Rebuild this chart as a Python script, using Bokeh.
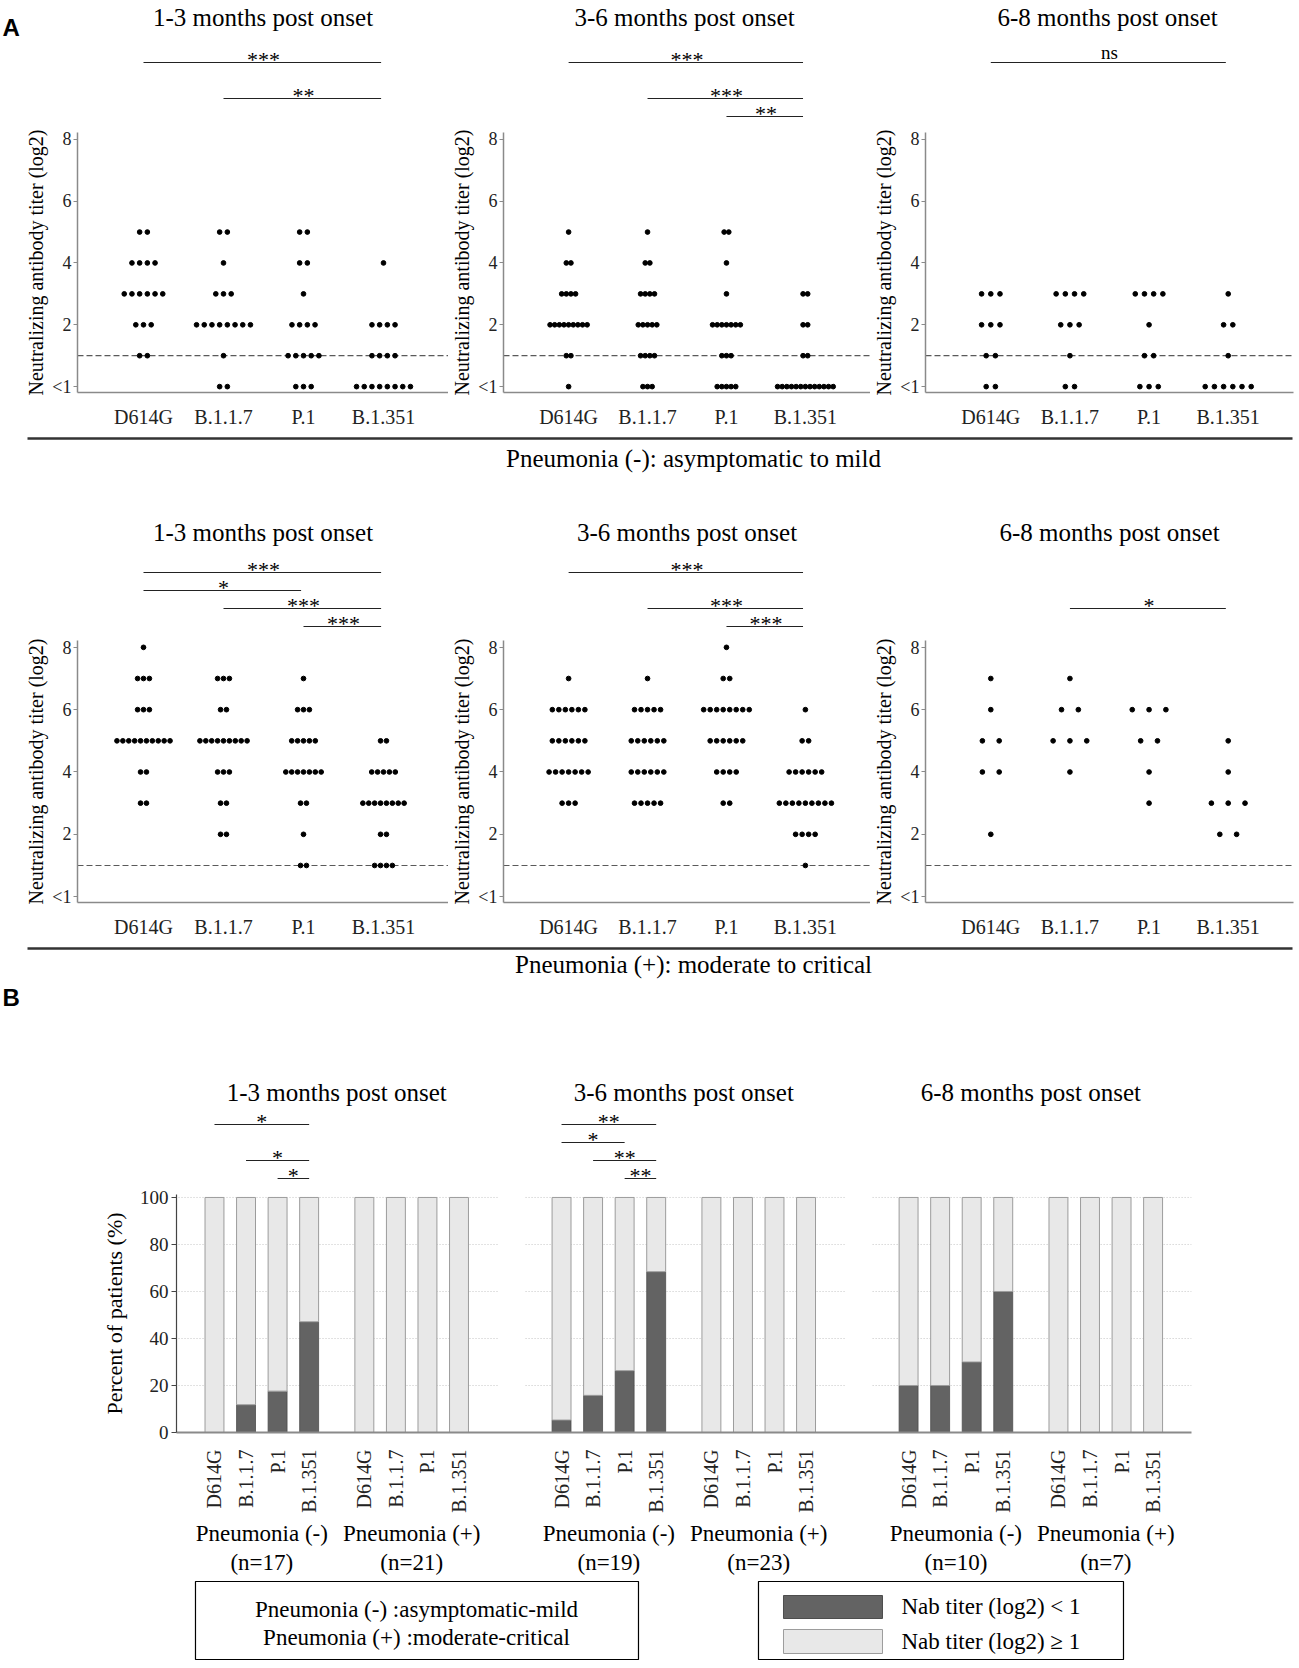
import math
from bokeh.plotting import figure
from bokeh.layouts import column, row
from bokeh.models import Range1d, FixedTicker, Span
from bokeh.embed import file_html
from bokeh.resources import INLINE
from bokeh.core.properties import value

SERIF = "Liberation Serif"
SANS = "Liberation Sans"

# ---------------------------------------------------------------- data
variants = ["D614G", "B.1.1.7", "P.1", "B.1.351"]
periods = ["1-3 months post onset", "3-6 months post onset", "6-8 months post onset"]
titer_ticks = [0, 2, 4, 6, 8]
titer_tick_labels = ["<1", "2", "4", "6", "8"]
cutoff = 1

# Panel A: neutralizing antibody titer (log2) per patient, 0 = "<1"
# Pneumonia (-): asymptomatic to mild
neg_1_3 = {
    "D614G":   [5, 5, 4, 4, 4, 4, 3, 3, 3, 3, 3, 3, 2, 2, 2, 1, 1],
    "B.1.1.7": [5, 5, 4, 3, 3, 3, 2, 2, 2, 2, 2, 2, 2, 2, 1, 0, 0],
    "P.1":     [5, 5, 4, 4, 3, 2, 2, 2, 2, 1, 1, 1, 1, 1, 0, 0, 0],
    "B.1.351": [4, 2, 2, 2, 2, 1, 1, 1, 1, 0, 0, 0, 0, 0, 0, 0, 0],
}
neg_3_6 = {
    "D614G":   [5, 4, 4, 3, 3, 3, 3, 2, 2, 2, 2, 2, 2, 2, 2, 2, 1, 1, 0],
    "B.1.1.7": [5, 4, 4, 3, 3, 3, 3, 2, 2, 2, 2, 2, 1, 1, 1, 1, 0, 0, 0],
    "P.1":     [5, 5, 4, 3, 2, 2, 2, 2, 2, 2, 2, 1, 1, 1, 0, 0, 0, 0, 0],
    "B.1.351": [3, 3, 2, 2, 1, 1, 0, 0, 0, 0, 0, 0, 0, 0, 0, 0, 0, 0, 0],
}
neg_6_8 = {
    "D614G":   [3, 3, 3, 2, 2, 2, 1, 1, 0, 0],
    "B.1.1.7": [3, 3, 3, 3, 2, 2, 2, 1, 0, 0],
    "P.1":     [3, 3, 3, 3, 2, 1, 1, 0, 0, 0],
    "B.1.351": [3, 2, 2, 1, 0, 0, 0, 0, 0, 0],
}
# Pneumonia (+): moderate to critical
pos_1_3 = {
    "D614G":   [8, 7, 7, 7, 6, 6, 6, 5, 5, 5, 5, 5, 5, 5, 5, 5, 5, 4, 4, 3, 3],
    "B.1.1.7": [7, 7, 7, 6, 6, 5, 5, 5, 5, 5, 5, 5, 5, 5, 4, 4, 4, 3, 3, 2, 2],
    "P.1":     [7, 6, 6, 6, 5, 5, 5, 5, 5, 4, 4, 4, 4, 4, 4, 4, 3, 3, 2, 1, 1],
    "B.1.351": [5, 5, 4, 4, 4, 4, 4, 3, 3, 3, 3, 3, 3, 3, 3, 2, 2, 1, 1, 1, 1],
}
pos_3_6 = {
    "D614G":   [7, 6, 6, 6, 6, 6, 6, 5, 5, 5, 5, 5, 5, 4, 4, 4, 4, 4, 4, 4, 3, 3, 3],
    "B.1.1.7": [7, 6, 6, 6, 6, 6, 5, 5, 5, 5, 5, 5, 4, 4, 4, 4, 4, 4, 3, 3, 3, 3, 3],
    "P.1":     [8, 7, 7, 6, 6, 6, 6, 6, 6, 6, 6, 5, 5, 5, 5, 5, 5, 4, 4, 4, 4, 3, 3],
    "B.1.351": [6, 5, 5, 4, 4, 4, 4, 4, 4, 3, 3, 3, 3, 3, 3, 3, 3, 3, 2, 2, 2, 2, 1],
}
pos_6_8 = {
    "D614G":   [7, 6, 5, 5, 4, 4, 2],
    "B.1.1.7": [7, 6, 6, 5, 5, 5, 4],
    "P.1":     [6, 6, 6, 5, 5, 4, 3],
    "B.1.351": [5, 4, 3, 3, 3, 2, 2],
}

# significance brackets: (from variant, to variant, label, stacking level)
sig_neg_1_3 = [(0, 3, "***", 0), (1, 3, "**", 2)]
sig_neg_3_6 = [(0, 3, "***", 0), (1, 3, "***", 2), (2, 3, "**", 3)]
sig_neg_6_8 = [(0, 3, "ns", 0)]
sig_pos_1_3 = [(0, 3, "***", 0), (0, 2, "*", 1), (1, 3, "***", 2), (2, 3, "***", 3)]
sig_pos_3_6 = [(0, 3, "***", 0), (1, 3, "***", 2), (2, 3, "***", 3)]
sig_pos_6_8 = [(1, 3, "*", 2)]

# Panel B: percent of patients with Nab titer (log2) < 1
groups = ["Pneumonia (-)", "Pneumonia (+)"]
group_n = [17, 21, 19, 23, 10, 7]
pct_below_neg_1_3 = [0.0, 11.8, 17.6, 47.1]
pct_below_pos_1_3 = [0.0, 0.0, 0.0, 0.0]
pct_below_neg_3_6 = [5.3, 15.8, 26.3, 68.4]
pct_below_pos_3_6 = [0.0, 0.0, 0.0, 0.0]
pct_below_neg_6_8 = [20.0, 20.0, 30.0, 60.0]
pct_below_pos_6_8 = [0.0, 0.0, 0.0, 0.0]
sig_b_1_3 = [(0, 3, "*", 0), (1, 3, "*", 2), (2, 3, "*", 3)]
sig_b_3_6 = [(0, 3, "**", 0), (0, 2, "*", 1), (1, 3, "**", 2), (2, 3, "**", 3)]
sig_b_6_8 = []

# ---------------------------------------------------------------- helpers
W = 1299
AXIS_GRAY = "#8a8a8a"
TITLE_PX = 25
STAR_PX = 22


def txt(p, x, y, s, size, align="center", baseline="middle", font=SERIF,
        style="normal", color="black", angle=0.0, y_offset=0):
    p.text(x=[x], y=[y], text=[s], text_font=value(font), text_font_size=f"{size}px",
           text_align=align, text_baseline=baseline, text_font_style=style,
           text_color=color, angle=angle, y_offset=y_offset)


def band(width, height, x_range=None, left=0, right=0):
    """Figure without axes whose y coordinate is pixels from its top edge."""
    p = figure(width=width, height=height,
               x_range=x_range if x_range is not None else Range1d(0, width),
               y_range=Range1d(height, 0),
               x_axis_location=None, y_axis_location=None,
               min_border_left=left, min_border_right=right, min_border_top=0, min_border_bottom=0,
               output_backend="svg", toolbar_location=None)
    p.grid.visible = False
    p.outline_line_color = None
    return p


def star_text(p, x, y, lab, size, star_off=-3):
    if lab == "ns":
        txt(p, x, y, lab, size - 3, y_offset=-10)
    else:
        txt(p, x, y, lab, size, y_offset=star_off)


def brackets(p, sigs, y_first, shift=0.0, x_end=0.0, star_off=-3):
    for i, j, lab, lvl in sigs:
        y = y_first + lvl * 18
        p.segment(x0=[shift + i], y0=[y], x1=[shift + j + x_end], y1=[y],
                  line_color="#222222", line_width=1.2)
        star_text(p, shift + (i + j) / 2, y, lab, STAR_PX, star_off)


FRAMES = [(448, 77, 371), (422, 50, 372), (429, 51, 372)]  # fig width, left border, frame width
PX_PER_CAT = 80.0


def dot_panel(data, spacing_px, sigs, fr, sig_h, sig_first, pan_h, top_border, y_lo, y_hi,
              title=None, title_y=None):
    width, left, frame_w = fr
    right = width - left - frame_w
    xr = Range1d(0.175, 0.175 + frame_w / PX_PER_CAT)

    # significance brackets (and title) above the panel, same x scale
    s = band(width, sig_h, x_range=xr, left=left, right=right)
    brackets(s, sigs, sig_first, shift=1.0, x_end=-0.03)
    if title:
        txt(s, 0.175 + frame_w / PX_PER_CAT / 2, title_y, title, TITLE_PX)

    p = figure(width=width, height=pan_h, x_range=xr, y_range=Range1d(y_lo, y_hi),
               min_border_left=left, min_border_right=right,
               min_border_top=top_border, min_border_bottom=32,
               output_backend="svg", toolbar_location=None)
    p.xgrid.visible = False
    p.ygrid.visible = False
    p.outline_line_color = None

    p.add_layout(Span(location=cutoff, dimension="width", line_color="#5a5a5a",
                      line_dash="6 3", line_width=1.2, level="underlay"))

    xs, ys = [], []
    for ci, v in enumerate(variants):
        vals = data[v]
        for level in sorted(set(vals)):
            k = vals.count(level)
            for i in range(k):
                xs.append(ci + 1 + (i - (k - 1) / 2) * spacing_px / PX_PER_CAT)
                ys.append(level)
    p.scatter(xs, ys, size=4.7, fill_color="black", line_color="black")

    yax = p.yaxis[0]
    yax.ticker = FixedTicker(ticks=titer_ticks)
    yax.major_label_overrides = {t: l for t, l in zip(titer_ticks, titer_tick_labels)}
    yax.axis_label = "Neutralizing antibody titer (log2)"
    yax.axis_label_text_font = SERIF
    yax.axis_label_text_font_size = "20px"
    yax.axis_label_text_font_style = "normal"
    yax.axis_label_text_color = "black"
    yax.axis_label_standoff = 2
    yax.major_label_text_font = SERIF
    yax.major_label_text_font_size = "18px"
    yax.major_label_text_color = "#222222"
    yax.major_label_standoff = 2
    yax.axis_line_color = AXIS_GRAY
    yax.axis_line_width = 1.5
    yax.major_tick_line_color = AXIS_GRAY
    yax.major_tick_out = 4
    yax.major_tick_in = 0
    yax.minor_tick_line_color = None

    xax = p.xaxis[0]
    xax.ticker = FixedTicker(ticks=[1, 2, 3, 4])
    xax.major_label_overrides = {i + 1: v for i, v in enumerate(variants)}
    xax.major_label_text_font = SERIF
    xax.major_label_text_font_size = "20px"
    xax.major_label_text_color = "#222222"
    xax.major_label_standoff = 7
    xax.axis_line_color = AXIS_GRAY
    xax.axis_line_width = 1.5
    xax.major_tick_line_color = None
    xax.minor_tick_line_color = None
    return column(s, p)


# ---------------------------------------------------------------- Panel A
centers = []
off = 0
for width, left, frame_w in FRAMES:
    centers.append(off + left + frame_w / 2)
    off += width

top = band(W, 40)
txt(top, 2, 27, "A", 24, align="left", font=SANS, style="bold")
for cx, t in zip(centers, periods):
    txt(top, cx, 17, t, TITLE_PX)

neg_data = [neg_1_3, neg_3_6, neg_6_8]
neg_sigs = [sig_neg_1_3, sig_neg_3_6, sig_neg_6_8]
neg_spacing = [7.7, 4.7, 9.3]
row1 = [dot_panel(d, s, g, fr, 86, 22, 304, 6, -0.19, 8.22)
        for d, s, g, fr in zip(neg_data, neg_spacing, neg_sigs, FRAMES)]

sep1 = band(W, 50)
sep1.segment(x0=[27], y0=[8], x1=[1292], y1=[8], line_color="#333333", line_width=2.5)
txt(sep1, 693, 28, "Pneumonia (-): asymptomatic to mild", TITLE_PX)

pos_data = [pos_1_3, pos_3_6, pos_6_8]
pos_sigs = [sig_pos_1_3, sig_pos_3_6, sig_pos_6_8]
pos_spacing = [5.9, 6.6, 17.0]
row2 = [dot_panel(d, s, g, fr, 157, 92, 303, 3, -0.188, 8.22, title=t, title_y=52)
        for d, s, g, fr, t in zip(pos_data, pos_spacing, pos_sigs, FRAMES, periods)]

sep2 = band(W, 70)
sep2.segment(x0=[27], y0=[8], x1=[1292], y1=[8], line_color="#333333", line_width=2.5)
txt(sep2, 693, 24, "Pneumonia (+): moderate to critical", TITLE_PX)
txt(sep2, 2, 57, "B", 24, align="left", font=SANS, style="bold")

# ---------------------------------------------------------------- Panel B
block_start = [0.0, 11.0, 22.0]
group_shift = [0.0, 4.75]
pct_blocks = [(pct_below_neg_1_3, pct_below_pos_1_3),
              (pct_below_neg_3_6, pct_below_pos_3_6),
              (pct_below_neg_6_8, pct_below_pos_6_8)]
sig_blocks = [sig_b_1_3, sig_b_3_6, sig_b_6_8]

bx, below, names = [], [], []
for b, pair in zip(block_start, pct_blocks):
    for g, vals in zip(group_shift, pair):
        for k, v in enumerate(vals):
            bx.append(b + g + k)
            below.append(v)
            names.append(variants[k])

B_LEFT, B_RIGHT = 176, 108
x_rng = Range1d(-1.204, 30.967)

# titles and brackets above the bar chart
pbt = band(W, 178, x_range=x_rng, left=B_LEFT, right=B_RIGHT)
for b, t, sigs in zip(block_start, periods, sig_blocks):
    txt(pbt, b + 3.875, 82, t, TITLE_PX)
    brackets(pbt, sigs, 114, shift=b, star_off=-3)

pb = figure(width=W, height=327, x_range=x_rng, y_range=Range1d(0, 101.26),
            min_border_left=B_LEFT, min_border_right=B_RIGHT, min_border_top=6, min_border_bottom=79,
            output_backend="svg", toolbar_location=None)
pb.xgrid.visible = False
pb.ygrid.visible = False
pb.outline_line_color = None

grid_levels = [20, 40, 60, 80, 100]
for b in block_start:
    pb.segment(x0=[b - 1.14] * len(grid_levels), y0=grid_levels,
               x1=[b + 8.97] * len(grid_levels), y1=grid_levels,
               line_color="#c4c4c4", line_dash="1 2", line_width=1)

r_dark = pb.vbar(x=bx, width=0.6, bottom=0, top=below, fill_color="#636363", line_color="#4d4d4d", line_width=0.8)
r_light = pb.vbar(x=bx, width=0.6, bottom=below, top=[100] * len(bx), fill_color="#e8e8e8",
                  line_color="#9c9c9c", line_width=1)

yb = pb.yaxis[0]
yb.ticker = FixedTicker(ticks=[0, 20, 40, 60, 80, 100])
yb.axis_label = "Percent of patients (%)"
yb.axis_label_text_font = SERIF
yb.axis_label_text_font_size = "22px"
yb.axis_label_text_font_style = "normal"
yb.axis_label_text_color = "black"
yb.axis_label_standoff = 10
yb.major_label_text_font = SERIF
yb.major_label_text_font_size = "19px"
yb.major_label_text_color = "#222222"
yb.major_label_standoff = 3
yb.axis_line_color = "#444444"
yb.axis_line_width = 1.2
yb.major_tick_line_color = "#444444"
yb.major_tick_out = 5
yb.major_tick_in = 0
yb.minor_tick_line_color = None

xb = pb.xaxis[0]
xb.ticker = FixedTicker(ticks=bx)
xb.major_label_overrides = {x: n for x, n in zip(bx, names)}
xb.major_label_orientation = math.pi / 2
xb.major_label_text_font = SERIF
xb.major_label_text_font_size = "20px"
xb.major_label_text_color = "#222222"
xb.major_label_standoff = 11
xb.axis_line_color = "#8a8a8a"
xb.axis_line_width = 2
xb.major_tick_line_color = None
xb.minor_tick_line_color = None

# group labels and legends (shares the x scale of the bar chart)
pb2 = band(W, 150, x_range=x_rng, left=B_LEFT, right=B_RIGHT)
gi = 0
for b in block_start:
    for g, gname in zip(group_shift, groups):
        cx = b + g + 1.5
        txt(pb2, cx, 18, gname, 23)
        txt(pb2, cx, 47, f"(n={group_n[gi]})", 23)
        gi += 1


def dx(real_px):
    return (real_px - 214.0) / 31.55


pb2.quad(left=[dx(195)], right=[dx(638)], top=[66], bottom=[144], fill_color=None,
         line_color="black", line_width=1.2)
txt(pb2, dx(416), 94, "Pneumonia (-) :asymptomatic-mild", 23)
txt(pb2, dx(416), 122, "Pneumonia (+) :moderate-critical", 23)

pb2.quad(left=[dx(758)], right=[dx(1123)], top=[66], bottom=[144], fill_color=None,
         line_color="black", line_width=1.2)
pb2.quad(left=[dx(783)], right=[dx(882)], top=[80], bottom=[103], fill_color="#636363",
         line_color="#4d4d4d", line_width=1)
pb2.quad(left=[dx(783)], right=[dx(882)], top=[114], bottom=[138], fill_color="#e8e8e8",
         line_color="#9c9c9c", line_width=1)
txt(pb2, dx(901), 91, "Nab titer (log2) < 1", 23, align="left")
txt(pb2, dx(901), 126, "Nab titer (log2) \u2265 1", 23, align="left")

layout = column(row(top), row(*row1), row(sep1), row(*row2), row(sep2), pbt, pb, pb2)

open("out.html", "w").write(file_html(layout, INLINE))
